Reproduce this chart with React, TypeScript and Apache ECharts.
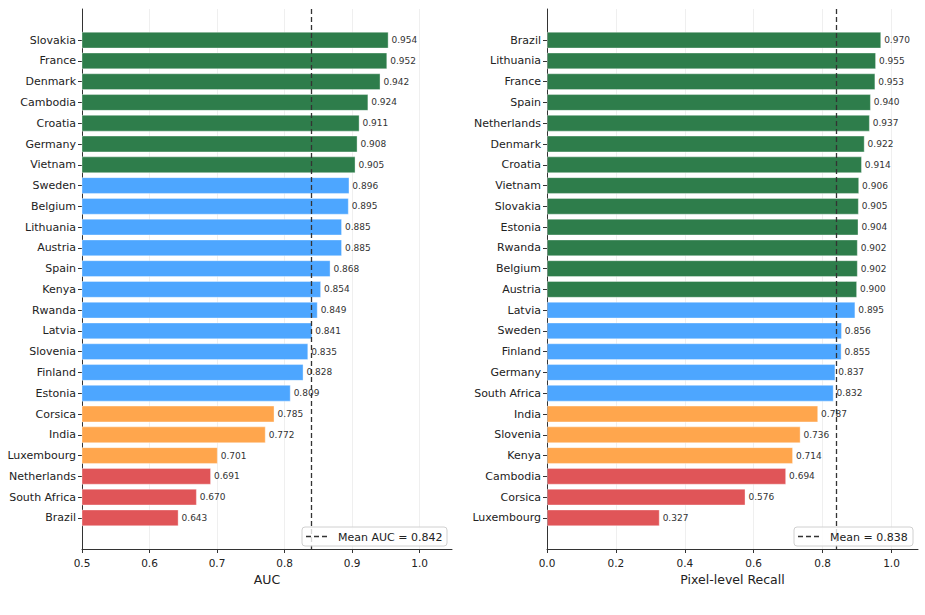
import React, { useEffect, useRef } from "react";
import * as echarts from "echarts";

const aucCountries = ["Slovakia", "France", "Denmark", "Cambodia", "Croatia", "Germany", "Vietnam", "Sweden", "Belgium", "Lithuania", "Austria", "Spain", "Kenya", "Rwanda", "Latvia", "Slovenia", "Finland", "Estonia", "Corsica", "India", "Luxembourg", "Netherlands", "South Africa", "Brazil"];
const aucValues = [0.954, 0.952, 0.942, 0.924, 0.911, 0.908, 0.905, 0.896, 0.895, 0.885, 0.885, 0.868, 0.854, 0.849, 0.841, 0.835, 0.828, 0.809, 0.785, 0.772, 0.701, 0.691, 0.67, 0.643];

const recallCountries = ["Brazil", "Lithuania", "France", "Spain", "Netherlands", "Denmark", "Croatia", "Vietnam", "Slovakia", "Estonia", "Rwanda", "Belgium", "Austria", "Latvia", "Sweden", "Finland", "Germany", "South Africa", "India", "Slovenia", "Kenya", "Cambodia", "Corsica", "Luxembourg"];
const recallValues = [0.97, 0.955, 0.953, 0.94, 0.937, 0.922, 0.914, 0.906, 0.905, 0.904, 0.902, 0.902, 0.9, 0.895, 0.856, 0.855, 0.837, 0.832, 0.787, 0.736, 0.714, 0.694, 0.576, 0.327];

const aucTicks = [0.5, 0.6, 0.7, 0.8, 0.9, 1.0];
const recallTicks = [0.0, 0.2, 0.4, 0.6, 0.8, 1.0];
const meanAUC = 0.842;
const meanRecall = 0.838;

const FONT = "DejaVu Sans";

function colorFor(v: number): string {
  if (v >= 0.9) return "#2e7d4b";
  if (v >= 0.8) return "#4da6ff";
  if (v >= 0.7) return "#ffa64d";
  return "#e05558";
}

function padCats(c: string[]) {
  return [" ", ...c, "  "];
}
function padVals(v: number[]) {
  return [
    "-",
    ...v.map((x) => ({ value: x, itemStyle: { color: colorFor(x) } })),
    "-",
  ];
}

function xAxisFor(idx: number, min: number, max: number, ticks: number[], name: string) {
  return {
    gridIndex: idx,
    type: "value",
    min,
    max,
    axisLine: { show: true, onZero: false, lineStyle: { color: "#333", width: 1 } },
    axisTick: { show: true, length: 4, customValues: ticks, lineStyle: { color: "#333" } },
    axisLabel: {
      customValues: ticks,
      formatter: (v: number) => v.toFixed(1),
      fontSize: 10.5,
      color: "#222",
      margin: 8,
      fontFamily: FONT,
    },
    splitLine: { show: true, lineStyle: { color: "#ebebeb", width: 0.8 } },
    name,
    nameLocation: "middle",
    nameGap: 23,
    nameTextStyle: { fontSize: 12.5, color: "#222", fontFamily: FONT },
  };
}

function yAxisFor(idx: number, cats: string[]) {
  const n = cats.length + 2;
  return {
    gridIndex: idx,
    type: "category",
    inverse: true,
    data: padCats(cats),
    axisLine: { show: true, onZero: false, lineStyle: { color: "#333", width: 1 } },
    axisTick: {
      show: true,
      alignWithLabel: true,
      length: 4,
      interval: (i: number) => i > 0 && i < n - 1,
      lineStyle: { color: "#333" },
    },
    axisLabel: { interval: 0, fontSize: 11, color: "#222", margin: 6, fontFamily: FONT },
    splitLine: { show: false },
  };
}

function barSeries(idx: number, vals: number[], mean: number) {
  return {
    type: "bar",
    xAxisIndex: idx,
    yAxisIndex: idx,
    data: padVals(vals),
    barCategoryGap: "20%",
    z: 2,
    itemStyle: { borderColor: "rgba(255,255,255,0.45)", borderWidth: 0.8 },
    label: {
      show: true,
      position: "right",
      distance: 3,
      formatter: (p: any) => Number(p.value).toFixed(3),
      fontSize: 9,
      color: "#333",
      fontFamily: FONT,
    },
    markLine: {
      silent: true,
      symbol: ["none", "none"],
      label: { show: false },
      lineStyle: { color: "#333", width: 1.3, type: [5, 3] },
      data: [{ xAxis: mean }],
    },
  };
}

function legendGroup(x: number, y: number, w: number, text: string) {
  return {
    type: "group",
    x,
    y,
    z: 100,
    children: [
      {
        type: "rect",
        z: 100,
        shape: { x: 0, y: 0, width: w, height: 19, r: 3 },
        style: { fill: "rgba(255,255,255,0.8)", stroke: "#d0d0d0", lineWidth: 1 },
      },
      {
        type: "line",
        z: 101,
        shape: { x1: 4, y1: 9.5, x2: 27, y2: 9.5 },
        style: { stroke: "#333", lineWidth: 1.3, lineDash: [5, 3] },
      },
      {
        type: "text",
        z: 101,
        x: 36,
        y: 10,
        style: {
          text,
          fontSize: 11,
          fontFamily: FONT,
          fill: "#222",
          verticalAlign: "middle",
          align: "left",
        },
      },
    ],
  };
}

export default function App() {
  const ref = useRef<HTMLDivElement>(null);
  useEffect(() => {
    document.body.style.margin = "0";
    const chart = echarts.init(ref.current!, null, { renderer: "svg" });
    chart.setOption({
      animation: false,
      backgroundColor: "#ffffff",
      textStyle: { fontFamily: FONT },
      grid: [
        { left: 82, right: 473, top: 9, bottom: 66, containLabel: false },
        { left: 547, right: 7, top: 9, bottom: 66, containLabel: false },
      ],
      xAxis: [
        xAxisFor(0, 0.5, 1.048, aucTicks, "AUC"),
        xAxisFor(1, 0, 1.077, recallTicks, "Pixel-level Recall"),
      ],
      yAxis: [yAxisFor(0, aucCountries), yAxisFor(1, recallCountries)],
      series: [
        barSeries(0, aucValues, meanAUC),
        barSeries(1, recallValues, meanRecall),
      ],
      graphic: [
        legendGroup(302, 527, 145, `Mean AUC = ${meanAUC.toFixed(3)}`),
        legendGroup(794, 527, 119, `Mean = ${meanRecall.toFixed(3)}`),
      ],
    });
    return () => chart.dispose();
  }, []);
  return <div ref={ref} style={{ width: 925, height: 615 }} />;
}
